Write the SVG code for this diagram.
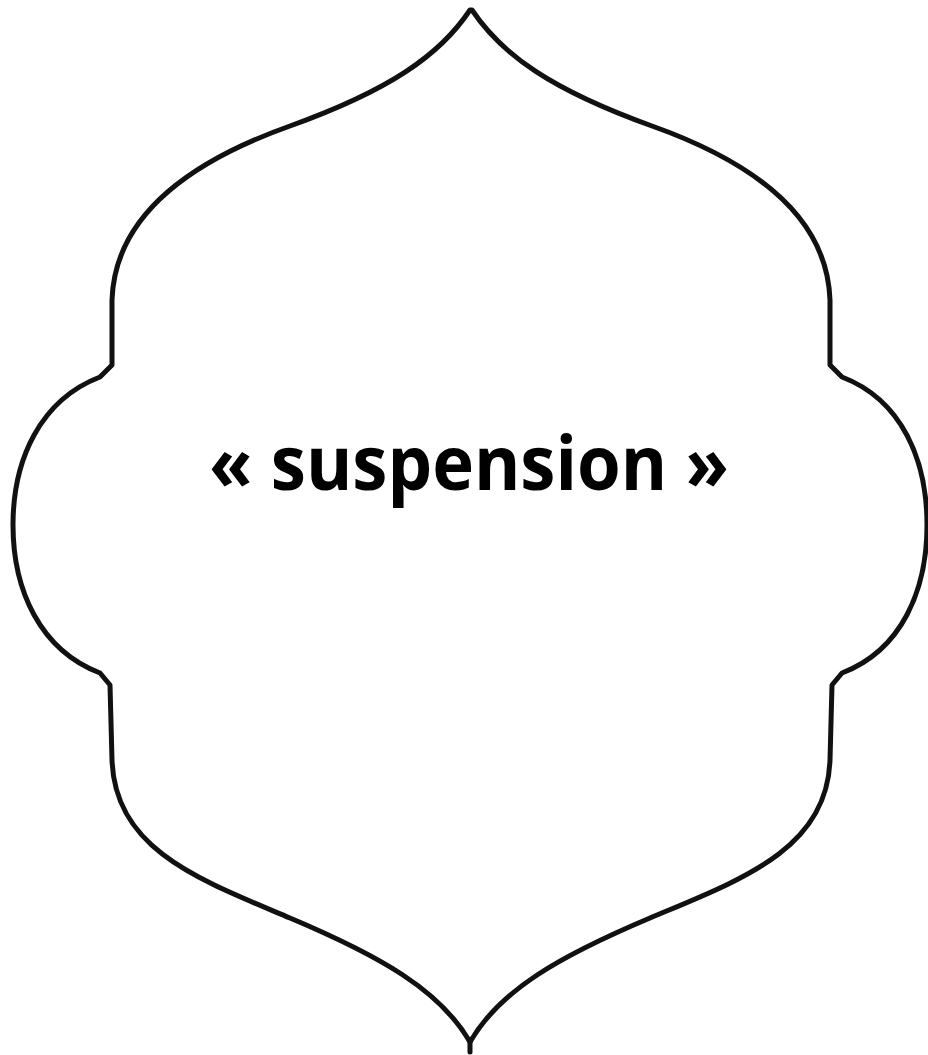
<svg xmlns="http://www.w3.org/2000/svg" width="928" height="1055" viewBox="0 0 928 1055">
<style>
.frame{fill:#ffffff;stroke:#111111;stroke-width:5;stroke-linejoin:round;stroke-linecap:round}
.label{font-family:"Open Sans","Liberation Sans",sans-serif;font-weight:700;font-size:75px;fill:#000000}
</style>
<rect width="928" height="1055" fill="#ffffff"/>
<g id="suspension">
<path class="frame" d="M470,10 C440,55 390,90 290,126 C200,158 115,210 112,300 L112,365 L100,377 C40,400 13,460 13,525 C13,590 40,650 100,673 L110,685 L112,760 C115,850 200,880 290,918 C380,956 440,990 470,1042 C500,990 560,956 650,918 C740,880 827,850 830,760 L832,685 L842,673 C902,650 927,590 927,525 C927,460 902,400 842,377 L830,365 L830,300 C827,210 742,158 652,126 C552,90 502,55 472,10 Z"/>
<path class="frame" d="M470,1042 L470,1052" fill="none"/>
<text class="label" x="469" y="490" text-anchor="middle" textLength="520" lengthAdjust="spacingAndGlyphs">« suspension »</text>
</g>
</svg>
